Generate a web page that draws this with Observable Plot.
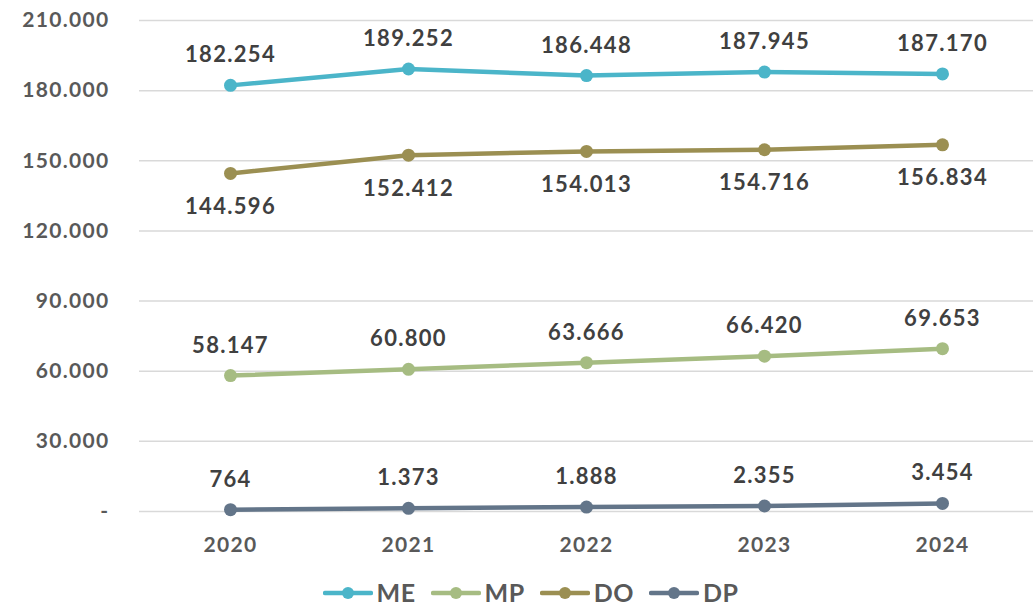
<!DOCTYPE html>
<html>
<head>
<meta charset="utf-8">
<script src="https://cdn.jsdelivr.net/npm/d3@7"></script>
<script src="https://cdn.jsdelivr.net/npm/@observablehq/plot@0.6"></script>
<style>
  body { margin: 0; background: #fff; font-family: Lato, "Open Sans", sans-serif; overflow: hidden; }
  #legend { display: flex; justify-content: center; gap: 15px; margin-left: 28px; margin-top: 24px; font-weight: bold; font-size: 25px; line-height: 25px; letter-spacing: 0.5px; color: #595959; }
  #legend .item { display: flex; align-items: center; gap: 4px; }
  svg text { letter-spacing: 1.3px; }
</style>
</head>
<body>
<div id="chart"></div>
<div id="legend"></div>
<script>
const years = ["2020", "2021", "2022", "2023", "2024"];
const seriesNames = ["ME", "MP", "DO", "DP"];
const ME = [182254, 189252, 186448, 187945, 187170];
const MP = [58147, 60800, 63666, 66420, 69653];
const DO = [144596, 152412, 154013, 154716, 156834];
const DP = [764, 1373, 1888, 2355, 3454];
const yTicks = [0, 30000, 60000, 90000, 120000, 150000, 180000, 210000];
const colors = ["#4BB5C9", "#A6BC82", "#9B8F52", "#637589"];
const labelBelow = {ME: false, MP: false, DO: true, DP: false};

const valuesBy = {ME, MP, DO, DP};
const data = seriesNames.flatMap(s => years.map((yr, i) => ({series: s, year: yr, value: valuesBy[s][i]})));

const fmt = v => v === 0 ? "-" : d3.format(",")(v).replace(/,/g, ".");

const chart = Plot.plot({
  width: 1033,
  height: 556,
  marginLeft: 139,
  marginRight: 0,
  marginTop: 20,
  marginBottom: 45,
  style: {fontFamily: "Lato, 'Open Sans', sans-serif", background: "#fff", display: "block"},
  x: {type: "point", domain: years, padding: 0.5, label: null},
  y: {domain: [0, 210000], label: null},
  color: {domain: seriesNames, range: colors},
  marks: [
    Plot.ruleY(yTicks, {stroke: "#d9d9d9", strokeWidth: 1.5}),
    Plot.axisY({ticks: yTicks, tickSize: 0, tickPadding: 30, tickFormat: fmt, fontSize: 21, fontWeight: "bold", fill: "#595959", label: null}),
    Plot.axisX({tickSize: 0, tickPadding: 26, fontSize: 21, fontWeight: "bold", fill: "#595959", label: null}),
    Plot.line(data, {x: "year", y: "value", z: "series", stroke: "series", strokeWidth: 4.5}),
    Plot.dot(data, {x: "year", y: "value", fill: "series", r: 6.5}),
    Plot.text(data, {x: "year", y: "value", text: d => fmt(d.value), fontSize: 22, fontWeight: "bold", fill: "#404040",
      filter: d => !labelBelow[d.series], lineAnchor: "bottom", dy: -23}),
    Plot.text(data, {x: "year", y: "value", text: d => fmt(d.value), fontSize: 22, fontWeight: "bold", fill: "#404040",
      filter: d => labelBelow[d.series], lineAnchor: "top", dy: 25})
  ]
});
document.getElementById("chart").append(chart);

const legend = document.getElementById("legend");
seriesNames.forEach((s, i) => {
  const item = document.createElement("div");
  item.className = "item";
  item.innerHTML = `<svg width="50" height="14"><line x1="2" y1="7" x2="48" y2="7" stroke="${colors[i]}" stroke-width="4.5" stroke-linecap="round"/><circle cx="25" cy="7" r="6" fill="${colors[i]}"/></svg><span>${s}</span>`;
  legend.append(item);
});
</script>
</body>
</html>
